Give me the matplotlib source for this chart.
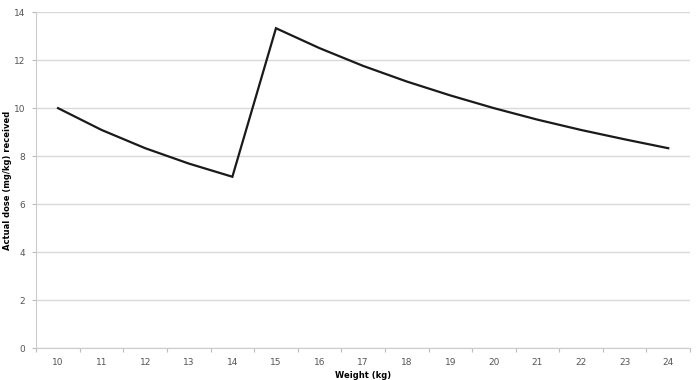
import numpy as np
import matplotlib.pyplot as plt

weights = [10, 11, 12, 13, 14, 15, 16, 17, 18, 19, 20, 21, 22, 23, 24]
dose = [10.0, 9.09, 8.33, 7.69, 7.14, 13.33, 12.5, 11.76, 11.11, 10.53,
        10.0, 9.52, 9.09, 8.70, 8.33]

fig = plt.figure(figsize=(6.97, 3.8), dpi=100)
ax = fig.add_axes([0.052, 0.084, 0.938, 0.884])

x = np.arange(len(weights))
ax.plot(x, dose, color="#1a1a1a", linewidth=1.6, solid_joinstyle="miter")

ax.set_xlim(-0.5, len(weights) - 0.5)
ax.set_ylim(0, 14)
ax.set_yticks(np.arange(0, 15, 2))
ax.yaxis.grid(True, color="#d9d9d9", linewidth=1)
ax.set_axisbelow(True)

# labels centred in categories, tick marks on the boundaries
ax.set_xticks(x)
ax.set_xticklabels([str(w) for w in weights])
ax.set_xticks(np.arange(-0.5, len(weights), 1), minor=True)
ax.tick_params(axis="x", which="major", length=0, labelsize=6.5,
               labelcolor="#555555", pad=7)
ax.tick_params(axis="x", which="minor", length=3, color="#bbbbbb", width=0.8)
ax.tick_params(axis="y", length=3, color="#bbbbbb", labelsize=6.5,
               labelcolor="#555555", width=0.8, pad=5)

for s in ["top", "right"]:
    ax.spines[s].set_visible(False)
ax.spines["left"].set_color("#cccccc")
ax.spines["bottom"].set_color("#cccccc")

ax.set_xlabel("Weight (kg)", fontsize=6, fontweight="bold", labelpad=3)
ax.set_ylabel("Actual dose (mg/kg) received", fontsize=6, fontweight="bold",
              labelpad=1)

fig.savefig("out.png", dpi=100)
